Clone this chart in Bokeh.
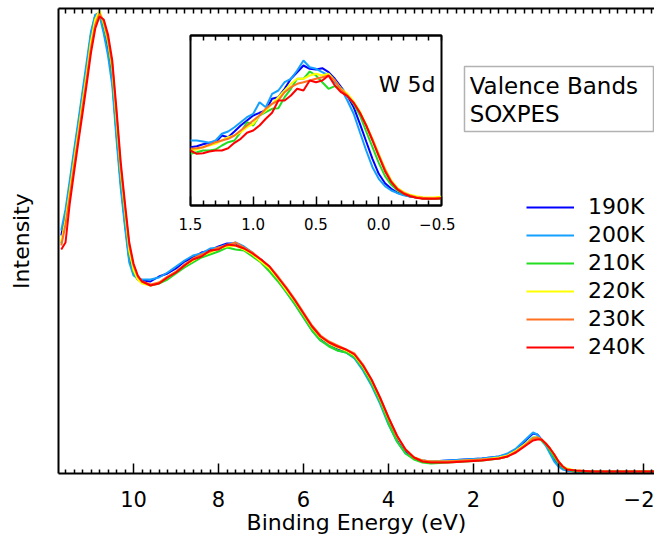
from bokeh.plotting import figure
from bokeh.models import FixedTicker, LinearAxis, Range1d, Label, BoxAnnotation
from bokeh.embed import file_html
from bokeh.resources import INLINE

FONT = "DejaVu Sans"

temps = ["190K", "200K", "210K", "220K", "230K", "240K"]
colors = ["#0000ff", "#14a0ff", "#22dd22", "#ffff00", "#ff7020", "#ff0000"]

# ---------------- main spectrum (binding energy in eV, intensity arb. units)
energy_main = [11.7, 11.6, 11.5, 11.4, 11.3, 11.2, 11.1, 11.0, 10.9, 10.8,
               10.7, 10.6, 10.5, 10.4, 10.3, 10.2, 10.1, 10.0, 9.9, 9.8,
               9.6, 9.4, 9.2, 9.0, 8.8, 8.6, 8.4, 8.2, 8.0, 7.8,
               7.6, 7.4, 7.2, 7.0, 6.8, 6.6, 6.4, 6.2, 6.0, 5.8,
               5.6, 5.4, 5.2, 5.0, 4.8, 4.6, 4.4, 4.2, 4.0, 3.8,
               3.6, 3.4, 3.2, 3.0, 2.6, 2.2, 1.8, 1.4, 1.2, 1.0,
               0.8, 0.6, 0.5, 0.4, 0.3, 0.2, 0.1, 0.0, -0.1, -0.2,
               -0.4, -0.8, -1.4, -2.3]

main_190 = [236, 258, 286, 317, 346, 376, 405, 437, 456, 459,
            441, 420, 392, 338, 288, 248, 212, 198, 192, 191,
            190, 195, 198, 203, 210, 214, 219, 221, 225, 228,
            228, 224, 217, 212, 203, 192, 180, 168, 155, 142,
            133, 127, 123, 120, 114, 103, 88, 70, 49, 31,
            19, 13, 11, 10, 11, 12, 13, 15, 17, 22,
            30, 38, 37, 32, 27, 20, 12, 6, 3, 1,
            0, 0, 0, 0]
main_200 = [241, 262, 291, 321, 350, 380, 410, 440, 457, 456,
            438, 416, 386, 332, 283, 244, 209, 196, 193, 192,
            192, 194, 199, 205, 211, 216, 218, 223, 224, 227,
            229, 225, 219, 210, 202, 191, 179, 167, 154, 141,
            131, 126, 121, 119, 113, 101, 86, 68, 47, 30,
            18, 13, 11, 10, 11, 12, 13, 15, 18, 23,
            31, 39, 37, 31, 26, 18, 10, 5, 2, 1,
            0, 0, 0, 0]
main_210 = [228, 252, 281, 311, 340, 370, 399, 431, 452, 459,
            446, 428, 400, 348, 297, 257, 219, 200, 192, 189,
            186, 188, 192, 198, 204, 209, 214, 217, 220, 224,
            222, 221, 215, 209, 200, 190, 179, 167, 154, 141,
            131, 125, 121, 119, 114, 103, 88, 70, 48, 30,
            18, 12, 9, 8, 9, 10, 11, 13, 15, 20,
            27, 34, 34, 31, 27, 21, 14, 8, 4, 2,
            0, 0, 0, 0]
main_220 = [230, 251, 280, 310, 339, 369, 398, 430, 452, 461,
            448, 431, 404, 352, 300, 260, 221, 202, 192, 188,
            186, 189, 194, 200, 206, 211, 216, 219, 223, 225,
            226, 222, 217, 210, 203, 193, 181, 170, 157, 144,
            134, 128, 124, 121, 116, 105, 91, 73, 53, 35,
            22, 14, 11, 10, 10, 11, 12, 14, 16, 21,
            27, 33, 34, 32, 28, 23, 17, 10, 5, 3,
            1, 0, 0, 0]
main_230 = [226, 247, 275, 305, 334, 364, 393, 424, 447, 458,
            450, 433, 407, 357, 304, 264, 226, 206, 195, 190,
            187, 189, 195, 200, 207, 213, 217, 220, 224, 226,
            229, 224, 219, 212, 205, 195, 184, 172, 159, 146,
            136, 130, 126, 122, 118, 107, 92, 74, 54, 35,
            22, 14, 11, 10, 10, 11, 12, 13, 15, 20,
            26, 33, 34, 32, 28, 23, 17, 10, 5, 2,
            1, 0, 0, 0]
main_240 = [222, 229, 268, 299, 329, 358, 388, 419, 443, 455,
            452, 437, 411, 362, 309, 268, 229, 208, 196, 190,
            186, 188, 194, 199, 206, 212, 215, 221, 222, 227,
            226, 223, 218, 212, 205, 194, 183, 171, 158, 145,
            135, 129, 125, 122, 117, 106, 92, 74, 54, 36,
            22, 14, 10, 9, 9, 10, 11, 13, 15, 19,
            25, 31, 32, 32, 28, 23, 17, 10, 5, 2,
            1, 0, 0, 0]

# ---------------- inset: W 5d region
energy_inset = [1.5, 1.45, 1.4, 1.35, 1.3, 1.25, 1.2, 1.15, 1.1, 1.05,
                1.0, 0.95, 0.9, 0.85, 0.8, 0.75, 0.7, 0.65, 0.6, 0.55,
                0.5, 0.45, 0.4, 0.35, 0.3, 0.25, 0.2, 0.15, 0.1, 0.05,
                0.0, -0.05, -0.1, -0.15, -0.2, -0.25, -0.3, -0.35, -0.4, -0.45,
                -0.5]

w5d_190 = [58.3, 59.3, 61.3, 62.7, 63.3, 70.0, 68.3, 74.0, 80.0, 85.0,
           90.0, 92.7, 95.0, 106.7, 108.3, 116.7, 126.7, 133.3, 140.0, 136.7,
           136.0, 137.3, 133.3, 126.7, 118.3, 110.0, 98.3, 81.7, 64.0, 46.7,
           31.7, 22.3, 16.7, 12.7, 10.7, 9.0, 8.0, 7.3, 7.0, 7.3,
           7.3]
w5d_200 = [65.0, 65.0, 64.0, 62.7, 65.0, 71.7, 74.0, 78.3, 83.3, 88.3,
           91.7, 103.3, 98.3, 111.7, 115.0, 123.3, 126.7, 135.0, 145.0, 138.3,
           136.7, 133.3, 130.0, 123.3, 116.7, 105.0, 91.7, 73.3, 55.0, 38.3,
           26.7, 19.3, 15.0, 12.3, 10.3, 9.0, 8.3, 7.7, 7.3, 7.3,
           7.3]
w5d_210 = [51.7, 53.3, 55.0, 55.0, 56.0, 60.0, 63.3, 65.0, 73.3, 83.3,
           80.0, 90.0, 93.3, 96.7, 97.3, 108.3, 116.7, 126.7, 126.7, 134.0,
           130.0, 123.3, 116.7, 119.3, 116.7, 110.0, 101.7, 90.0, 74.0, 58.3,
           42.7, 29.3, 20.7, 15.0, 11.7, 9.3, 8.0, 7.0, 6.7, 6.7,
           6.7]
w5d_220 = [55.0, 56.0, 58.3, 60.0, 61.7, 65.0, 68.3, 70.0, 73.3, 78.3,
           81.7, 90.0, 95.0, 101.7, 108.3, 115.0, 121.7, 126.7, 126.7, 130.0,
           131.7, 130.0, 131.7, 125.0, 116.7, 111.7, 104.0, 94.0, 80.7, 66.7,
           51.7, 36.7, 25.0, 17.3, 13.3, 10.7, 9.3, 8.3, 8.0, 8.3,
           8.7]
w5d_230 = [56.7, 57.3, 58.3, 60.7, 63.3, 65.0, 66.7, 70.0, 75.0, 80.0,
           85.0, 90.0, 96.7, 101.7, 105.0, 113.3, 118.3, 121.7, 123.3, 125.0,
           126.7, 128.3, 130.0, 125.0, 116.0, 110.0, 102.7, 92.7, 80.0, 66.0,
           50.7, 36.0, 24.0, 16.7, 12.7, 10.0, 8.3, 7.7, 7.3, 7.3,
           7.3]
w5d_240 = [55.0, 51.7, 52.3, 54.0, 55.0, 55.0, 57.3, 62.7, 66.7, 72.7,
           75.0, 80.0, 86.7, 92.7, 105.0, 105.0, 110.0, 116.7, 115.0, 125.0,
           123.3, 125.0, 130.0, 120.0, 113.3, 109.3, 102.7, 92.7, 80.0, 65.0,
           49.3, 34.3, 23.3, 16.0, 11.7, 9.3, 7.7, 6.7, 6.7, 6.7,
           7.3]

main_series = [main_190, main_200, main_210, main_220, main_230, main_240]
inset_series = [w5d_190, w5d_200, w5d_210, w5d_220, w5d_230, w5d_240]

# tick positions
main_major = [-2, 0, 2, 4, 6, 8, 10]
main_all = [round(-2.2 + 0.2 * i, 1) for i in range(71)]
main_minor = [t for t in main_all if t not in main_major]
main_labels = {-2: "\u22122"}

inset_major = [1.5, 1.0, 0.5, 0.0, -0.5]
inset_all = [round(-0.5 + 0.1 * i, 1) for i in range(21)]
inset_minor = [t for t in inset_all if t not in inset_major]
inset_labels = {1.5: "1.5", 1.0: "1.0", 0.5: "0.5", 0.0: "0.0", -0.5: "\u22120.5"}

# ---------------- main figure
p = figure(width=654, height=540, output_backend="svg", toolbar_location=None,
           x_range=Range1d(11.765, -2.259), y_range=Range1d(-2, 463),
           x_axis_location=None, y_axis_location=None,
           min_border_left=58, min_border_right=0, min_border_top=8, min_border_bottom=67,
           outline_line_color=None, background_fill_color="white",
           styles={"position": "absolute", "left": "0px", "top": "0px"})
p.xgrid.grid_line_color = None
p.ygrid.grid_line_color = None


def style_ticks(ax, major_len, minor_len):
    ax.axis_line_width = 2
    ax.axis_line_color = "black"
    ax.major_tick_in = major_len
    ax.major_tick_out = 0
    ax.minor_tick_in = minor_len
    ax.minor_tick_out = 0
    ax.major_tick_line_width = 1.5
    ax.minor_tick_line_width = 1.5
    ax.major_tick_line_color = "black"
    ax.minor_tick_line_color = "black"


bx = LinearAxis(ticker=FixedTicker(ticks=main_major, minor_ticks=main_minor),
                axis_label="Binding Energy (eV)")
style_ticks(bx, 10, 4)
bx.major_label_overrides = main_labels
bx.major_label_text_font = FONT
bx.major_label_text_font_size = "21px"
bx.major_label_text_color = "black"
bx.major_label_standoff = 17
bx.axis_label_text_font = FONT
bx.axis_label_text_font_size = "22px"
bx.axis_label_text_font_style = "normal"
bx.axis_label_text_color = "black"
bx.axis_label_standoff = 0
p.add_layout(bx, "below")

tx = LinearAxis(ticker=FixedTicker(ticks=[], minor_ticks=main_all))
style_ticks(tx, 0, 5)
tx.major_label_standoff = 0
p.add_layout(tx, "above")

ly = LinearAxis(ticker=FixedTicker(ticks=[]), axis_label="Intensity")
ly.axis_line_width = 2
ly.axis_line_color = "black"
ly.major_tick_line_color = None
ly.minor_tick_line_color = None
ly.major_label_standoff = 0
ly.axis_label_text_font = FONT
ly.axis_label_text_font_size = "22px"
ly.axis_label_text_font_style = "normal"
ly.axis_label_text_color = "black"
ly.axis_label_standoff = 25
p.add_layout(ly, "left")

for name, col, ys in zip(temps, colors, main_series):
    p.line(energy_main, ys, line_color=col, line_width=2, legend_label=name)

leg = p.legend[0]
leg.location = (468, 114)
leg.label_text_font = FONT
leg.label_text_font_size = "22px"
leg.label_text_color = "black"
leg.glyph_width = 48
leg.glyph_height = 20
leg.label_height = 20
leg.label_standoff = 14
leg.spacing = 3
leg.padding = 0
leg.margin = 0
leg.border_line_color = None
leg.background_fill_alpha = 0

# title box "Valence Bands / SOXPES"
p.add_layout(BoxAnnotation(left=2.212, right=-2.235, top=405, bottom=340,
                           fill_alpha=0, line_color="black", line_width=1.5))
p.add_layout(Label(x=2.09, y=385.5, text="Valence Bands", text_font=FONT,
                   text_font_size="23px", text_baseline="middle", text_color="black"))
p.add_layout(Label(x=2.09, y=357.5, text="SOXPES", text_font=FONT,
                   text_font_size="23px", text_baseline="middle", text_color="black"))

# ---------------- inset figure
inset = figure(width=279, height=206, output_backend="svg", toolbar_location=None,
               x_range=Range1d(1.5, -0.5), y_range=Range1d(0, 170),
               x_axis_location=None, y_axis_location=None,
               min_border_left=14, min_border_right=14, min_border_top=4, min_border_bottom=32,
               outline_line_color="black", outline_line_width=2,
               background_fill_color="white", border_fill_alpha=0,
               styles={"position": "absolute", "left": "176px", "top": "31px"})
inset.xgrid.grid_line_color = None
inset.ygrid.grid_line_color = None

ib = LinearAxis(ticker=FixedTicker(ticks=inset_major, minor_ticks=inset_minor))
style_ticks(ib, 9, 5)
ib.major_label_overrides = inset_labels
ib.major_label_text_font = FONT
ib.major_label_text_font_size = "15px"
ib.major_label_text_color = "black"
ib.major_label_standoff = 12
inset.add_layout(ib, "below")

it = LinearAxis(ticker=FixedTicker(ticks=[], minor_ticks=inset_all))
style_ticks(it, 0, 5)
it.major_label_standoff = 0
inset.add_layout(it, "above")

for col, ys in zip(colors, inset_series):
    inset.line(energy_inset, ys, line_color=col, line_width=2)

inset.add_layout(Label(x=0.0, y=121.5, text="W 5d", text_font=FONT,
                       text_font_size="22px", text_baseline="middle", text_color="black"))

open("out.html", "w").write(file_html([p, inset], INLINE, title="Valence Bands SOXPES"))
